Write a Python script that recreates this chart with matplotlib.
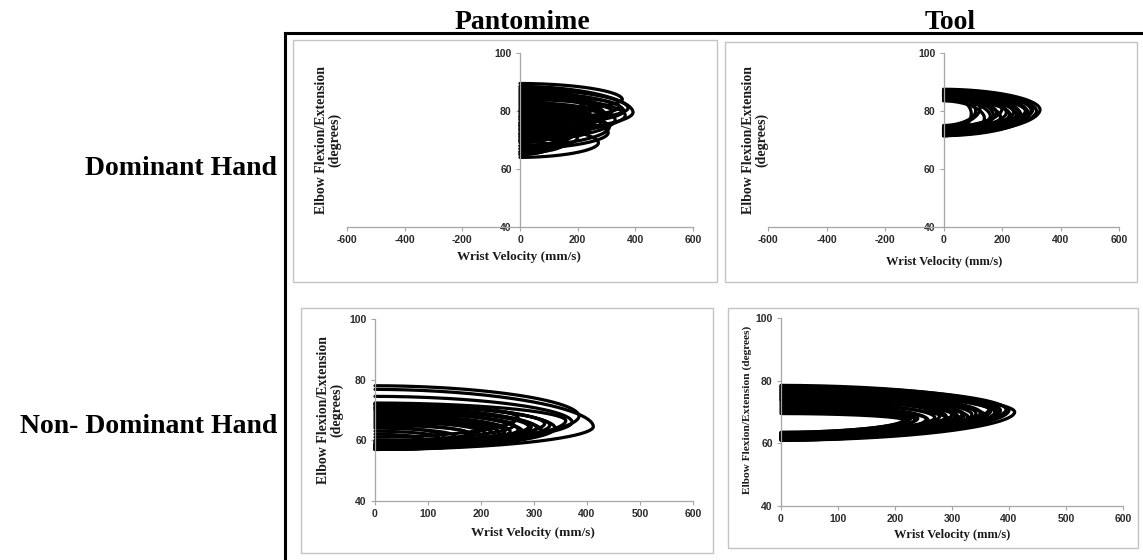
import numpy as np
import matplotlib
matplotlib.use("Agg")
import matplotlib.pyplot as plt
from matplotlib.patches import Rectangle
from matplotlib.lines import Line2D

plt.rcParams["axes.unicode_minus"] = False

W, H = 1143, 560
SERIF = "Liberation Serif"
TICKFONT = "Liberation Sans"
AXIS_GREY = "#a6a6a6"
FRAME_GREY = "#c4c4c4"

col_titles = ["Pantomime", "Tool"]
row_titles = ["Dominant Hand", "Non- Dominant Hand"]
x_label = "Wrist Velocity (mm/s)"
y_label_two_lines = "Elbow Flexion/Extension\n(degrees)"
y_label_one_line = "Elbow Flexion/Extension (degrees)"

y_ticks = [40, 60, 80, 100]
x_ticks_signed = [-600, -400, -200, 0, 200, 400, 600]
x_ticks_speed = [0, 100, 200, 300, 400, 500, 600]

# Movement cycles: elbow angle at movement start (speed 0), angle at peak
# wrist speed, angle at movement end (speed 0) and the peak wrist speed.
pant_dom_start = [89.5, 88.5, 87.5, 86.5, 85.5, 85.0, 84.0, 83.0, 82.0, 81.0,
                  80.0, 78.0, 76.0, 74.5, 79.0, 87.0, 77.0, 83.5, 72.0,
                  88.0, 86.0, 84.5, 82.5, 81.5, 80.5, 79.5, 78.5, 77.5, 75.5,
                  73.5, 71.0, 69.5]
pant_dom_peak_angle = [84.0, 79.5, 81.0, 80.0, 81.5, 78.5, 80.0, 77.0, 78.0, 76.0,
                       74.5, 72.5, 73.0, 69.0, 75.0, 82.0, 71.0, 79.0, 68.5,
                       81.0, 80.5, 79.5, 78.5, 77.5, 77.0, 76.0, 75.5, 73.5, 72.0,
                       70.5, 69.0, 68.0]
pant_dom_end = [80.0, 73.0, 76.0, 75.0, 77.0, 72.0, 76.0, 70.0, 74.0, 71.0,
                68.0, 67.0, 70.0, 64.0, 72.0, 78.0, 66.0, 75.0, 65.5,
                75.0, 74.0, 73.5, 72.5, 71.5, 70.5, 69.5, 69.0, 68.0, 67.0,
                66.0, 65.0, 65.0]
pant_dom_speed = [355, 392, 375, 360, 345, 365, 320, 330, 300, 280,
                  310, 306, 240, 272, 220, 260, 200, 180, 150,
                  250, 230, 290, 210, 260, 190, 235, 170, 205, 180,
                  160, 130, 110]

tool_dom_start = [87.5, 87.0, 86.5, 86.0, 85.5, 86.5, 85.0, 84.5, 86.0, 84.0,
                  85.5, 83.5, 86.5,
                  87.2, 86.8, 85.8, 85.2, 84.8, 86.2, 85.0, 84.2, 87.0, 85.6]
tool_dom_peak_angle = [80.5, 80.0, 80.5, 79.0, 80.0, 78.5, 79.0, 78.0, 79.5, 78.0,
                       78.5, 77.5, 80.0,
                       80.2, 79.8, 79.2, 79.5, 78.8, 80.8, 79.6, 78.2, 81.0, 79.1]
tool_dom_end = [72.0, 72.5, 73.0, 71.5, 74.0, 72.0, 73.0, 72.5, 73.5, 71.5,
                74.5, 72.0, 75.0,
                73.2, 72.8, 72.2, 73.8, 71.8, 74.2, 72.6, 73.4, 74.6, 71.4]
tool_dom_speed = [330, 318, 305, 292, 280, 265, 250, 232, 215, 195,
                  170, 140, 110,
                  300, 285, 260, 240, 225, 200, 180, 160, 125, 95]

pant_nondom_start = [78.0, 76.8, 74.5, 72.3, 72.0, 71.5, 71.0, 70.5, 70.0, 69.0,
                     68.0, 67.0, 66.0, 65.0, 64.0, 63.0, 62.0,
                     71.8, 70.8, 69.5, 68.5, 67.5, 66.5, 65.5, 72.1, 70.2, 64.5]
pant_nondom_peak_angle = [68.0, 64.5, 66.0, 66.5, 64.0, 65.0, 63.0, 64.5, 62.5, 65.0,
                          63.0, 62.0, 63.5, 62.5, 61.5, 61.0, 60.5,
                          65.5, 64.0, 63.5, 63.0, 62.5, 62.0, 61.5, 67.5, 64.5, 61.0]
pant_nondom_end = [58.0, 57.0, 58.5, 58.0, 57.0, 58.0, 57.0, 59.5, 57.0, 60.0,
                   58.0, 57.5, 59.5, 58.0, 57.5, 58.5, 57.0,
                   59.0, 58.5, 58.0, 57.5, 58.0, 57.5, 58.5, 61.0, 59.0, 57.5]
pant_nondom_speed = [385, 412, 372, 360, 340, 330, 315, 295, 280, 262,
                     245, 225, 200, 175, 150, 120, 90,
                     320, 305, 270, 255, 235, 210, 185, 270, 290, 130]

tool_nondom_start = [77.0, 78.5, 76.5, 75.0, 77.5, 74.0, 76.0, 73.0, 75.5, 72.0,
                     71.0, 70.0, 78.0, 74.5, 69.5,
                     78.2, 77.8, 76.8, 76.2, 75.8, 75.2, 74.8, 74.2, 73.5, 72.5,
                     71.5, 70.5, 77.2, 73.8]
tool_nondom_peak_angle = [70.0, 70.5, 70.0, 69.0, 69.5, 68.5, 68.5, 67.5, 68.5, 67.5,
                          68.0, 68.0, 71.0, 69.5, 67.5,
                          70.8, 70.2, 70.4, 69.8, 69.2, 69.0, 68.8, 68.6, 68.2, 67.8,
                          67.6, 67.4, 70.6, 69.2]
tool_nondom_end = [61.0, 61.5, 61.5, 62.0, 61.0, 62.5, 62.0, 61.0, 63.0, 62.5,
                   63.0, 63.5, 62.0, 62.0, 63.5,
                   62.2, 61.2, 61.8, 62.4, 61.4, 62.8, 61.6, 62.6, 63.2, 61.8,
                   62.4, 63.2, 61.3, 62.8]
tool_nondom_speed = [410, 385, 375, 358, 342, 328, 310, 295, 278, 258,
                     240, 228, 365, 318, 215,
                     395, 380, 368, 350, 335, 322, 305, 290, 270, 255,
                     235, 222, 400, 300]


def cycle_curve(a_start, a_peak, a_end, v_peak, n=1.9, k=160):
    """Speed/angle trace of one reach: speed rises from 0 to its peak and
    falls back to 0 while the elbow moves from a_start to a_end."""
    th = np.linspace(0.0, np.pi, k)
    s, c = np.sin(th), np.cos(th)
    v = v_peak * s ** (2.0 / n)
    e = np.abs(c) ** (2.0 / n)
    a = np.where(c >= 0, a_peak + (a_start - a_peak) * e,
                 a_peak - (a_peak - a_end) * e)
    return v, a


fig = plt.figure(figsize=(W / 100, H / 100), dpi=100)


def px_axes(x0, x1, y0, y1):
    return fig.add_axes([x0 / W, 1 - y1 / H, (x1 - x0) / W, (y1 - y0) / H])


def ftext(x, y, s, **kw):
    return fig.text(x / W, 1 - y / H, s, **kw)


def frame(x0, x1, y0, y1):
    fig.add_artist(Rectangle((x0 / W, 1 - y1 / H), (x1 - x0) / W, (y1 - y0) / H,
                             transform=fig.transFigure, fill=False,
                             ec=FRAME_GREY, lw=1.0))


def style(ax, xlim, xticks):
    ax.set_xlim(*xlim)
    ax.set_ylim(40, 100)
    ax.set_xticks(xticks)
    ax.set_yticks(y_ticks)
    for side in ("top", "right"):
        ax.spines[side].set_visible(False)
    ax.spines["left"].set_position(("data", 0))
    for side in ("left", "bottom"):
        ax.spines[side].set_color(AXIS_GREY)
        ax.spines[side].set_linewidth(0.9)
    ax.tick_params(axis="both", colors=AXIS_GREY, length=3, width=0.8,
                   labelcolor="#2a2a2a", labelsize=7.5, pad=3)
    for lbl in ax.get_xticklabels() + ax.get_yticklabels():
        lbl.set_fontfamily(TICKFONT)
        lbl.set_fontweight("bold")
    ax.patch.set_alpha(0)


def draw_cycles(ax, starts, peaks, ends, speeds):
    for a0, ap, a1, vp in zip(starts, peaks, ends, speeds):
        v, a = cycle_curve(a0, ap, a1, vp)
        ax.plot(v, a, color="black", lw=2.3, solid_capstyle="round", clip_on=False)


# panel frames
frame(293, 717, 40, 282)
frame(725, 1137, 42, 282)
frame(301, 713, 308, 553)
frame(728, 1138, 308, 548)

ax_tl = px_axes(347, 693, 53, 227)
ax_tr = px_axes(768, 1119, 53, 227)
ax_bl = px_axes(375, 693, 319, 501)
ax_br = px_axes(781, 1123, 318, 506)

style(ax_tl, (-600, 600), x_ticks_signed)
style(ax_tr, (-600, 600), x_ticks_signed)
style(ax_bl, (0, 600), x_ticks_speed)
style(ax_br, (0, 600), x_ticks_speed)

draw_cycles(ax_tl, pant_dom_start, pant_dom_peak_angle, pant_dom_end, pant_dom_speed)
draw_cycles(ax_tr, tool_dom_start, tool_dom_peak_angle, tool_dom_end, tool_dom_speed)
draw_cycles(ax_bl, pant_nondom_start, pant_nondom_peak_angle, pant_nondom_end, pant_nondom_speed)
draw_cycles(ax_br, tool_nondom_start, tool_nondom_peak_angle, tool_nondom_end, tool_nondom_speed)

lab = dict(family=SERIF, weight="bold", color="#1a1a1a", ha="center", va="center")
ftext(328, 140, y_label_two_lines, rotation=90, fontsize=10, linespacing=1.0,
      multialignment="center", **lab)
ftext(755, 140, y_label_two_lines, rotation=90, fontsize=10, linespacing=1.0,
      multialignment="center", **lab)
ftext(330, 410, y_label_two_lines, rotation=90, fontsize=10, linespacing=1.0,
      multialignment="center", **lab)
ftext(747, 410, y_label_one_line, rotation=90, fontsize=8.2, **lab)

ftext(519, 257, x_label, fontsize=9.5, **lab)
ftext(944, 262, x_label, fontsize=9, **lab)
ftext(533, 533, x_label, fontsize=9.5, **lab)
ftext(952, 535, x_label, fontsize=9, **lab)

# outer frame: heavy rule along the top and down the left side
fig.add_artist(Line2D([285 / W, 1.0], [1 - 33 / H, 1 - 33 / H],
                      transform=fig.transFigure, color="black", lw=2.2))
fig.add_artist(Line2D([285 / W, 285 / W], [1 - 33 / H, 0.0],
                      transform=fig.transFigure, color="black", lw=2.2))

head = dict(family=SERIF, weight="bold", color="black", fontsize=20)
ftext(522, 29, col_titles[0], ha="center", va="baseline", **head)
ftext(950, 29, col_titles[1], ha="center", va="baseline", **head)
ftext(277, 175, row_titles[0], ha="right", va="baseline", **head)
ftext(277, 433, row_titles[1], ha="right", va="baseline", **head)

fig.savefig("out.png", dpi=100, facecolor="white")
